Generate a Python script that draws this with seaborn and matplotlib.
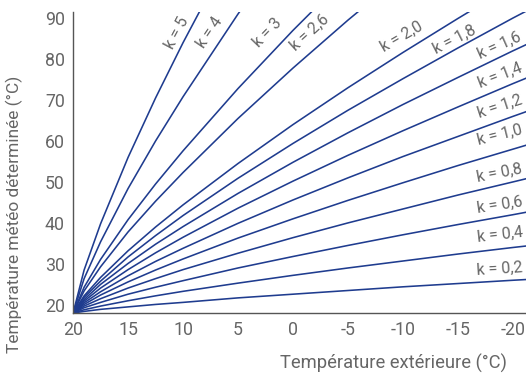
import pandas as pd
import seaborn as sns
import matplotlib.pyplot as plt

# outside temperature (x) and flow temperature read for each curve
t_out = [20, 19, 17.5, 15, 12.5, 10, 5, 0, -5, -10, -15, -20, -22]

k_labels = ['k = 0,2', 'k = 0,4', 'k = 0,6', 'k = 0,8', 'k = 1,0', 'k = 1,2', 'k = 1,4',
            'k = 1,6', 'k = 1,8', 'k = 2,0', 'k = 2,6', 'k = 3', 'k = 4', 'k = 5']

t_k02 = [18, 18.4, 18.9, 19.5, 20.1, 20.6, 21.7, 22.6, 23.5, 24.4, 25.2, 26.0, 26.3]
t_k04 = [18, 18.8, 19.7, 21.0, 22.2, 23.3, 25.3, 27.2, 29.0, 30.7, 32.4, 34.0, 34.6]
t_k06 = [18, 19.3, 20.6, 22.6, 24.3, 25.9, 29.0, 31.8, 34.5, 37.1, 39.6, 42.0, 43.0]
t_k08 = [18, 19.7, 21.5, 24.1, 26.4, 28.6, 32.6, 36.4, 40.0, 43.4, 46.8, 50.0, 51.3]
t_k10 = [18, 20.1, 22.4, 25.6, 28.5, 31.2, 36.3, 41.0, 45.5, 49.8, 54.0, 58.0, 59.6]
t_k12 = [18, 20.5, 23.2, 27.1, 30.6, 33.8, 39.9, 45.6, 51.0, 56.2, 61.1, 66.0, 67.9]
t_k14 = [18, 20.9, 24.1, 28.6, 32.7, 36.5, 43.6, 50.2, 56.5, 62.5, 68.3, 74.0, 76.2]
t_k16 = [18, 21.3, 25.0, 30.1, 34.8, 39.1, 47.2, 54.8, 62.0, 68.9, 75.5, 82.0, 84.5]
t_k18 = [18, 21.8, 25.8, 31.7, 36.9, 41.8, 50.9, 59.4, 67.5, 75.2, 82.7, 90.0, 92.8]
t_k20 = [18, 22.2, 26.7, 33.2, 39.0, 44.4, 54.5, 64.0, 73.0, 81.6, 89.9, 98.0, 101.0]
t_k26 = [18, 23.4, 29.3, 37.8, 45.3, 52.3, 65.5, 77.8, 89.5, 100.6, 111.5, 122.0, 126.0]
t_k30 = [18, 24.3, 31.1, 40.8, 49.5, 57.6, 72.8, 87.0, 100.4, 113.3, 125.8, 138.0, 142.7]
t_k40 = [18, 26.4, 35.4, 48.4, 60.0, 70.8, 91.0, 110.0, 127.8, 145.0, 161.8, 178.0, 184.3]
t_k50 = [18, 28.5, 39.8, 56.0, 70.5, 84.0, 109.3, 133.0, 155.3, 176.8, 197.8, 218.0, 225.9]

curves = [t_k02, t_k04, t_k06, t_k08, t_k10, t_k12, t_k14,
          t_k16, t_k18, t_k20, t_k26, t_k30, t_k40, t_k50]

rows = []
for lab, ys in zip(k_labels, curves):
    for x, y in zip(t_out, ys):
        rows.append({'courbe': lab, 'T_ext': x, 'T_dep': y})
df = pd.DataFrame(rows)

sns.set_style('white')
plt.rcParams['font.family'] = ['Roboto', 'DejaVu Sans']
plt.rcParams['axes.unicode_minus'] = False
text_col = '#666666'
line_col = '#1f3c8f'

fig = plt.figure(figsize=(5.26, 3.74), dpi=100)
ax = fig.add_axes([0.139, 0.163, 0.861, 0.805])

sns.lineplot(data=df, x='T_ext', y='T_dep', units='courbe', estimator=None,
             color=line_col, linewidth=1.15, ax=ax, sort=False)

ax.set_xlim(20, -21.2)
ax.set_ylim(18, 91.5)
ax.set_xticks([20, 15, 10, 5, 0, -5, -10, -15, -20])
ax.set_yticks([20, 30, 40, 50, 60, 70, 80, 90])
ax.tick_params(length=0, labelsize=12.8, colors=text_col, pad=6)

for s in ['top', 'right']:
    ax.spines[s].set_visible(False)
for s in ['left', 'bottom']:
    ax.spines[s].set_color('#555555')
    ax.spines[s].set_linewidth(1.0)

ax.set_xlabel('Température extérieure (°C)', fontsize=13.2, color=text_col, ha='center')
ax.xaxis.set_label_coords(0.708, -0.135)
ax.set_ylabel('Température météo déterminée (°C)', fontsize=12.5, color=text_col, ha='center')
ax.yaxis.set_label_coords(-0.111, 0.327)

# curve labels: (x, y, rotation)
label_pos = [(-18.8, 28.7, 3.5), (-18.8, 37.0, 6.5), (-18.8, 44.4, 8.5),
             (-18.8, 52.2, 11), (-18.8, 61.5, 14), (-18.8, 68.3, 18),
             (-18.8, 76.1, 21), (-18.8, 83.4, 24), (-14.7, 84.7, 27),
             (-9.9, 85.4, 30), (-1.55, 86.4, 42), (2.27, 86.4, 46),
             (7.55, 86.4, 56), (10.55, 86.4, 62)]
for lab, (x, y, r) in zip(k_labels, label_pos):
    ax.text(x, y, lab, fontsize=11.5, color=text_col,
            rotation=r, ha='center', va='center', rotation_mode='anchor')

fig.savefig('out.png', dpi=100)
